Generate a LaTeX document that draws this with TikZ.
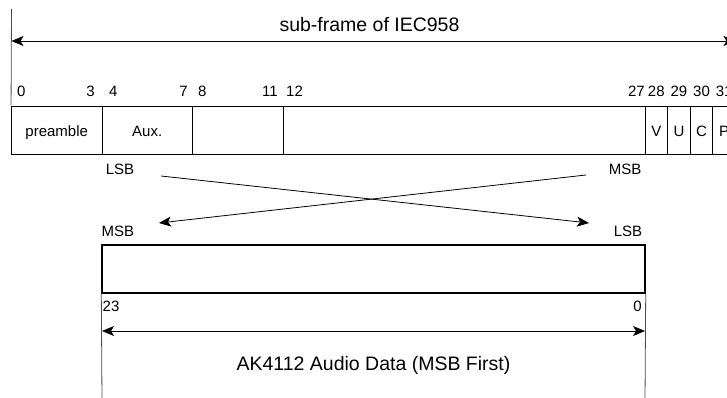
\documentclass[tikz,border=0pt]{standalone}
\usepackage{fontspec}
\setmainfont{Liberation Sans}
\usetikzlibrary{arrows.meta}
\tikzset{
	lbl/.style={font=\fontsize{15}{18}\selectfont,inner sep=0pt},
	ttl/.style={font=\fontsize{19.5}{23}\selectfont,inner sep=0pt},
	cell/.style={draw,line width=0.9pt,inner sep=0pt,minimum height=48pt,font=\fontsize{15}{18}\selectfont,text height=14pt,text depth=0pt},
	arr/.style={line width=0.8pt,-{Stealth[length=12pt,width=10pt,inset=3pt]}},
	dimarr/.style={line width=0.8pt,{Stealth[length=12pt,width=10pt,inset=3pt]}-{Stealth[length=12pt,width=10pt,inset=3pt]}},
	guide/.style={line width=0.8pt,black!70}
}
\begin{document}
\begin{tikzpicture}[x=1pt,y=-1pt]
	\useasboundingbox (0,0) rectangle (727,398);
	\clip (0,0) rectangle (727,398);
	\node[cell,minimum width=90.5pt] (pre) at (56.75,130) {preamble};
	\node[cell,minimum width=90.5pt] (aux) at (147.25,130) {Aux.};
	\node[cell,minimum width=90.5pt] (c8) at (237.75,130) {};
	\node[cell,minimum width=362pt] (c12) at (464,130) {};
	\foreach \b/\t in {28/V,29/U,30/C,31/P} {
		\node[cell,minimum width=22.625pt] (b\b) at ({11.5+(\b+0.5)*22.625},130) {\t};
	}
	\node[lbl,anchor=base west] (n0) at (17,97) {0};
	\node[lbl,anchor=base east] (n3) at (95,97) {3};
	\node[lbl,anchor=base west] (n4) at (109,97) {4};
	\node[lbl,anchor=base east] (n7) at (188,97) {7};
	\node[lbl,anchor=base west] (n8) at (198,97) {8};
	\node[lbl,anchor=base east] (n11) at (278,97) {11};
	\node[lbl,anchor=base west] (n12) at (286,97) {12};
	\node[lbl,anchor=base east] (n27) at (645,97) {27};
	\foreach \b in {28,...,31} {
		\node[lbl,anchor=base] (n\b) at ({11.5+(\b+0.5)*22.625},97) {\b};
	}
	\coordinate (ftop) at (11.5,9);
	\coordinate (fend) at (735.5,9);
	\coordinate (fl) at (11.5,41);
	\coordinate (fr) at (735.5,41);
	\draw[guide] (ftop) -- (pre.north west);
	\draw[guide] (fend) -- (b31.north east);
	\draw[dimarr] (fl) -- (fr);
	\node[ttl,anchor=base] (title) at (369.5,32) {sub-frame of IEC958};
	\node[lbl,anchor=base] (lsbt) at (120,175) {LSB};
	\node[lbl,anchor=base] (msbt) at (625,175) {MSB};
	\node[lbl,anchor=base] (msbb) at (118,236) {MSB};
	\node[lbl,anchor=base] (lsbb) at (628,236) {LSB};
	\coordinate (a1) at (161,176);
	\coordinate (a2) at (589,223);
	\coordinate (b1) at (586,175);
	\coordinate (b2) at (159,223);
	\draw[arr] (a1) -- (a2);
	\draw[arr] (b1) -- (b2);
	\node[draw,line width=1.4pt,inner sep=0pt,minimum width=543pt,minimum height=48pt] (data) at (373.5,269) {};
	\coordinate (dl) at (102,400);
	\coordinate (dr) at (645,400);
	\draw[guide] (data.south west) -- (dl);
	\draw[guide] (data.south east) -- (dr);
	\node[lbl,anchor=base west] (n23) at (102.5,311) {23};
	\node[lbl,anchor=base east] (nz) at (642,311) {0};
	\coordinate (al) at (102,331);
	\coordinate (ar) at (645,331);
	\draw[dimarr] (al) -- (ar);
	\node[ttl,anchor=base] (ak) at (373.5,370) {AK4112 Audio Data (MSB First)};
\end{tikzpicture}
\end{document}
